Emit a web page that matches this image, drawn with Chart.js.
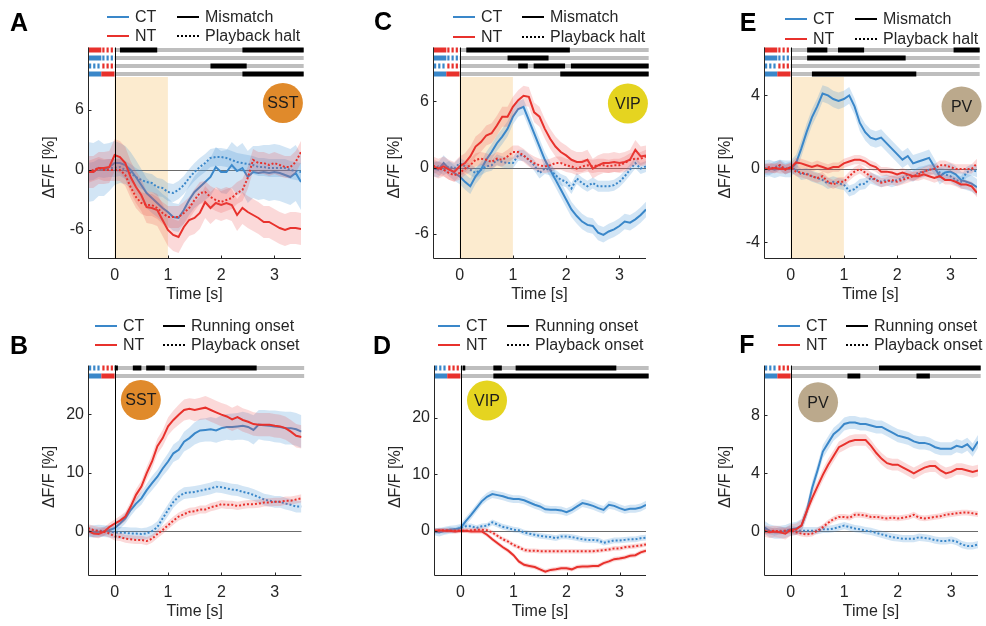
<!DOCTYPE html>
<html>
<head>
<meta charset="utf-8">
<script src="https://cdn.jsdelivr.net/npm/chart.js@4.4.1/dist/chart.umd.min.js"></script>
<style>
  body { margin: 0; background: #fff; }
  #fig { position: relative; width: 986px; height: 626px; overflow: hidden; background: #fff; }
  #fig canvas { position: absolute; }
</style>
</head>
<body>
<div id="fig"></div>
<script>
// time axis (s) and tick labels
const time = [-0.5,-0.4,-0.3,-0.2,-0.1,0,0.1,0.2,0.3,0.4,0.5,0.6,0.7,0.8,0.9,1,1.1,1.2,1.3,1.4,1.5,1.6,1.7,1.8,1.9,2,
  2.1,2.2,2.3,2.4,2.5,2.6,2.7,2.8,2.9,3,3.1,3.2,3.3,3.4,3.5];
const xTicks = [0, 1, 2, 3];

// A: SST, mismatch vs playback halt
const aCtSolid = [-0.2,-0.2,0.2,0,0.3,0.7, 0.7,0.5,0,-0.7,-1.5,-2.3,-2.8,-3.3,-3.8,-4.2, -4.7,-4.8,-4,-3,-2.2,-1.7,-1.2,-0.7,0.3,-0.2,
  -0.2,0.5,-0.1,0.2,-0.7,-0.2,-0.3,-0.2,-0.3,-0.2,-0.3,-0.5,-0.7,-0.3,-1.2];
const aNtSolid = [-0.2,-0.2,0.2,0.2,0.3,1.5, 1.3,0.7,-0.7,-1.7,-2.5,-3.7,-3.8,-4,-5,-6, -6.5,-6.7,-5.7,-5,-4.8,-4.3,-3.2,-3.8,-3.3,-3.5,
  -3.3,-3.5,-4.5,-3.8,-4.2,-4.5,-4.8,-5.2,-5.2,-5.5,-5.8,-6,-5.8,-5.8,-5.9];
const aCtDot = [-0.2,-0.1,0.2,0.1,0.2,0.2, 0.3,0,-0.3,-0.7,-1,-1.2,-1.3,-1.7,-1.8,-2.2, -2.3,-2,-1.5,-0.8,-0.2,0.3,0.7,1.2,1.3,1.3,
  1.2,1,0.8,0.7,0.6,0.5,0.3,0.3,0.2,0.2,0.2,0.2,0,-0.1,-0.2];
const aNtDot = [-0.2,0,0.2,0,0,0, 0,-0.5,-1.7,-2.7,-3.3,-3.5,-3.5,-3.8,-4.3,-4.7, -4.7,-4.7,-4.3,-3.8,-3,-2.3,-2.2,-2.7,-3,-3.2,
  -3,-2.8,-2.3,-2,-0.8,1,0.7,0.7,0.5,0.7,0.5,0.3,0.3,0.8,1.8];
const aErrCtSolid = [3,2.9,2.8,2.6,2.4,2.2, 2,1.9,1.8,1.7,1.6,1.5,1.5,1.4,1.4,1.4, 1.4,1.4,1.4,1.5,1.6,1.7,1.8,1.9,2,2.1,
  2.2,2.3,2.4,2.5,2.6,2.6,2.7,2.7,2.8,2.8,2.8,2.8,2.8,2.8,2.8];
const aErr = { ctDot: 0.9, ntSolid: 1.6, ntDot: 1.1 };
const aSig = [[[0.1,0.8],[2.4,3.55]], [], [[1.8,2.48]], [[2.4,3.55]]];

// C: VIP, mismatch vs playback halt
const cCtSolid = [-0.1,-0.2,0.4,-0.1,-0.5,-0.8, -1.3,-1.7,-0.8,-0.2,0.7,1.4,2.2,2.8,3.5,4.6, 5.3,5.5,4.3,3.1,1.9,0.7,-0.2,-1.1,-2,-2.9,
  -3.8,-4.4,-4.9,-5.2,-5.3,-5.9,-6.1,-5.8,-5.6,-5.3,-4.9,-5,-4.7,-4.3,-3.8];
const cNtSolid = [0.1,-0.1,0.1,-0.2,-0.4,0.1, 0.4,1,1.9,2.3,2.9,3.1,3.8,4.6,4.6,5.5, 6.1,6.5,6.4,5,4.6,3.5,2.6,1.9,1.4,1.1,
  0.7,0.5,0.5,0.7,-0.1,0.2,0.4,0.4,0.5,0.4,0.5,0.7,1.6,1,1.1];
const cCtDot = [-0.1,0.1,-0.2,0.1,-0.1,0.4, 0.1,-0.2,-0.5,-0.2,0.1,0.2,0.7,0.5,0.4,0.4, 1.1,1.1,0.7,0.2,-0.5,-0.1,-0.2,-0.7,-1.1,-1.3,
  -1.9,-1,-1.4,-1.7,-1.4,-1.7,-1.7,-1.7,-1.6,-1.3,-0.8,-0.2,0.4,-0.1,0.1];
const cNtDot = [0.2,-0.1,-0.2,-0.5,-0.7,-0.5, -0.1,0.2,0.7,0.8,0.7,0.5,0.8,0.7,1,1.4, 1.4,1.1,0.7,0.4,0.2,0.1,0.2,0.4,0.4,0.2,
  0.1,-0.1,0.1,0.2,0.1,0.2,0.2,0.1,0.2,0.2,0.4,0.7,0.8,0.8,1];
const cErr = { ctSolid: 0.7, ctDot: 0.5, ntSolid: 0.9, ntDot: 0.6 };
const cSig = [[[0.125,2.07]], [[0.9,1.67]], [[1.1,1.28],[1.39,1.98],[2.09,3.55]], [[1.89,3.55]]];

// E: PV, mismatch vs playback halt
const eCtSolid = [0,0.05,-0.05,0.05,0,0, 0.3,1.1,2,2.8,3.4,4.1,4,3.8,3.7,3.8, 4,3.4,2.5,2,1.7,1.6,1.7,1.4,1.1,0.8,
  0.5,0.7,0.3,0.4,0.5,0.6,0.1,-0.4,-0.2,-0.15,-0.3,-0.6,-0.7,-0.8,-1];
const eNtSolid = [0,0,0.05,0,0,0.05, 0.35,0.3,0.2,0.1,0.2,0.1,0,0.1,0.1,0.3, 0.4,0.5,0.5,0.4,0.2,0.1,-0.15,-0.15,-0.2,-0.3,
  -0.2,-0.3,-0.4,-0.4,-0.3,-0.4,-0.5,-0.4,-0.6,-0.6,-0.7,-0.85,-0.85,-0.95,-1.3];
const eCtDot = [0,-0.05,0.1,0.2,0,0.1, -0.05,-0.3,-0.25,-0.4,-0.5,-0.6,-0.8,-0.7,-0.8,-0.85, -1.2,-1.1,-0.85,-0.8,-0.5,-0.6,-0.7,-0.6,-0.7,-0.6,
  -0.5,-0.3,-0.4,-0.2,-0.15,-0.05,0,-0.2,-0.3,-0.4,-0.6,-0.7,-0.2,-0.05,-0.15];
const eNtDot = [0,0.1,0,0.2,-0.05,0.1, -0.15,-0.2,-0.3,-0.4,-0.5,-0.4,-0.7,-0.85,-0.7,-0.7, -0.4,-0.15,0,-0.2,-0.4,-0.6,-0.75,-0.7,-0.6,-0.7,
  -0.6,-0.5,-0.4,-0.3,-0.15,-0.05,0,0.2,0.2,0.1,0,0,0,0,0.3];
const eErr = { ctSolid: 0.45, ctDot: 0.3, ntSolid: 0.25, ntDot: 0.25 };
const eSig = [[[0.31,0.69],[0.89,1.38],[3.06,3.55]], [[0.31,2.16]], [], [[0.4,2.36]]];

// B: SST, running onset vs playback onset
const bCtSolid = [-0.1,-0.3,-0.3,0,0.2,0.5, 1.3,2.2,3.6,4.7,5.6,7,8.2,9.3,10.7,11.9, 13.3,13.9,15.3,15.9,16.7,17.2,17.3,17.4,17.2,17.6,
  17.8,17.8,17.9,18,17.8,17.3,18.2,18.1,18,17.9,17.8,17.6,17.6,17.4,17];
const bNtSolid = [0.1,-0.4,-0.5,-0.1,0.7,1.3, 1.8,2.5,4.2,6.2,7.6,9.9,11.9,14.5,15.9,17.9, 19,19.9,20.7,20.9,20.7,20.9,21.1,20.7,20.3,19.9,
  19.6,19.1,19.5,19,18.7,18.3,18.2,18.2,18.2,18,17.9,17.6,17,16.3,16.1];
const bCtDot = [-0.1,0,0.1,0,-0.1,-0.2, -0.3,-0.3,-0.4,-0.4,-0.5,-0.4,0,0.7,2.2,3.6, 5,5.9,6.5,6.6,6.7,6.9,7.1,7.3,7.6,7.5,
  7.3,7.1,7,6.7,6.5,6.2,5.8,5.4,5.2,5,5,4.7,4.5,4.2,4.2];
const bNtDot = [0.5,0.2,0,-0.1,-0.4,-0.9, -1,-1.3,-1.4,-1.5,-1.5,-1.7,-1.3,-0.5,0.2,1, 1.8,2.5,2.9,3.3,3.4,3.7,3.7,4.1,4.3,4.6,
  4.5,4.5,4.3,4.5,4.6,4.6,4.7,4.9,4.9,5,5,5.2,5.2,5.4,5.6];
const bErrCtSolid = [0.8,0.8,0.8,0.8,0.8,0.8, 0.9,0.9,1,1,1.1,1.1,1.2,1.2,1.3,1.4, 1.5,1.6,1.7,1.8,1.9,2,2,2.1,2.1,2.2,
  2.2,2.3,2.3,2.4,2.4,2.5,2.5,2.6,2.6,2.7,2.7,2.8,2.8,2.8,2.8];
const bErrNtSolid = [0.7,0.7,0.7,0.7,0.7,0.7, 0.8,0.8,0.9,1,1,1.1,1.2,1.3,1.4,1.5, 1.6,1.7,1.8,1.8,1.9,1.9,2,2,2,2,
  2,2,2,2,2,2,2,2,2,2,2,2,2,2,2];
const bErr = { ctDot: 1.0, ntDot: 0.7 };
const bSig = [[[0,0.06],[0.34,0.5],[0.59,0.94],[1.03,2.66]], []];

// D: VIP, running onset vs playback onset
const dCtSolid = [-0.1,-0.3,0,0.2,0.3,0.5, 1.7,2.8,4,5.2,6,6.5,6.3,6.1,5.8,5.6, 5.6,5.4,5,4.6,4.3,3.8,3.7,3.7,3.6,3.3,
  3.7,4.3,4.9,4.7,4.4,4,3.7,4.6,4.4,4,3.7,3.9,3.9,4.1,4.6];
const dNtSolid = [0,0.1,0,0,-0.1,0, 0,-0.1,-0.1,-0.1,-0.7,-1.5,-2.2,-2.9,-3.5,-4.3, -5.4,-6,-6.2,-6.4,-6.8,-7.2,-6.9,-6.8,-6.6,-6.6,
  -6.8,-6.4,-6.3,-6.3,-6.2,-6.2,-5.7,-5.4,-5,-4.9,-4.7,-4.4,-4.3,-3.8,-3.5];
const dCtDot = [-0.2,0.1,0,0.2,0.1,0.5, 0.8,0.8,0.5,0.8,0.9,1.5,1.1,0.7,0.5,0.2, 0.1,-0.3,-0.5,-0.7,-0.9,-1,-1.1,-1.3,-1,-1,
  -1.1,-1.3,-1.5,-1.6,-1.6,-1.7,-2.1,-1.9,-1.7,-1.7,-1.6,-1.5,-1.5,-1.3,-1.2];
const dNtDot = [0,0,0.1,0,0,0, 0,0.1,0.2,0.2,0.1,-0.3,-0.9,-1.5,-1.9,-2.5, -2.9,-3.4,-3.5,-3.5,-3.6,-3.6,-3.6,-3.6,-3.6,-3.6,
  -3.6,-3.6,-3.6,-3.6,-3.6,-3.5,-3.4,-3.3,-3.1,-3.1,-2.9,-2.8,-2.7,-2.6,-2.4];
const dErr = { ctSolid: 0.7, ctDot: 0.5, ntSolid: 0.4, ntDot: 0.4 };
const dSig = [[[0.04,0.09],[0.62,0.78],[1.04,2.94]], [[0.62,3.55]]];

// F: PV, running onset vs playback onset
const fCtSolid = [0.3,0.05,-0.05,-0.05,0,0.15, 0.2,0.4,1.4,3,4.2,5.5,6.1,6.7,7,7.4, 7.5,7.5,7.4,7.4,7.3,7.2,7.2,7,6.8,6.6,
  6.5,6.4,6.2,6.1,6.1,6,5.8,5.7,5.7,5.7,5.9,5.8,6,5.6,6.2];
const fNtSolid = [0.05,-0.05,0,-0.05,-0.15,0.1, 0.15,0.4,1.4,2.3,3.1,3.9,4.6,5.2,5.8,6, 6.2,6.3,6.3,6.3,5.9,5.4,5,4.7,4.6,4.6,
  4.4,4.2,4,4.2,4.4,4.5,4.5,4.2,4,4.1,4.3,4.3,4.2,4.1,4.2];
const fCtDot = [0.15,0.05,-0.05,0.05,0.05,0.15, 0.05,0.05,0.05,0.05,0.05,0.15,0.15,0.2,0.3,0.4, 0.3,0.2,0.15,0.05,0,-0.1,-0.2,-0.3,-0.4,-0.45,
  -0.5,-0.5,-0.5,-0.4,-0.45,-0.5,-0.6,-0.65,-0.65,-0.6,-0.7,-0.9,-1,-1,-0.9];
const fNtDot = [0,0,0.05,0,0.05,0.05, -0.05,-0.15,-0.2,-0.15,0.05,0.3,0.6,0.85,1,1, 0.95,1.15,1.15,1.1,1,1,0.95,0.9,0.95,0.9,
  0.95,1,1.15,0.95,0.9,0.95,1,1.05,1.15,1.2,1.25,1.3,1.3,1.25,1.2];
const fErr = { ctSolid: 0.45, ctDot: 0.25, ntSolid: 0.4, ntDot: 0.2 };
const fSig = [[[1.65,3.55]], [[1.06,1.3],[2.35,2.6]]];

// which two traces each significance row compares
const mismatchRows = [['nt','solid','nt','dot'], ['ct','solid','ct','dot'], ['ct','dot','nt','dot'], ['ct','solid','nt','solid']];
const onsetRows = [['ct','dot','nt','dot'], ['ct','solid','nt','solid']];

const BLUE = '#3A87C9', RED = '#E8312C';
const BLUE_BAND = 'rgba(74,152,214,0.25)', RED_BAND = 'rgba(236,80,80,0.22)';
const FONT = 'Arial, "Liberation Sans", Helvetica, sans-serif';
const INK = '#262626';
Chart.defaults.font.family = FONT;
Chart.defaults.color = INK;

const panels = [
  { letter: 'A', cell: 'SST', cellColor: '#E08A2B', dot: [3.16, 6.7],
    ct: aCtSolid, nt: aNtSolid, ctD: aCtDot, ntD: aNtDot,
    err: { ctSolid: aErrCtSolid, ctDot: aErr.ctDot, ntSolid: aErr.ntSolid, ntDot: aErr.ntDot },
    yMin: -8.8, yMax: 9.3, yTicks: [-6, 0, 6], sig: aSig, rows: mismatchRows, shade: [0, 1],
    names: ['Mismatch', 'Playback halt'],
    box: { left: 88, right: 301, top: 77, bottom: 258, cellTop: 0, cellH: 310 },
    letterAt: [19, 24], leg: [107, 177, 17, 36] },
  { letter: 'C', cell: 'VIP', cellColor: '#E5D420', dot: [3.16, 5.8],
    ct: cCtSolid, nt: cNtSolid, ctD: cCtDot, ntD: cNtDot, err: cErr,
    yMin: -8.2, yMax: 8.2, yTicks: [-6, 0, 6], sig: cSig, rows: mismatchRows, shade: [0, 1],
    names: ['Mismatch', 'Playback halt'],
    box: { left: 433, right: 646, top: 77, bottom: 258, cellTop: 0, cellH: 310 },
    letterAt: [383, 23], leg: [453, 522, 17, 37] },
  { letter: 'E', cell: 'PV', cellColor: '#BBA98C', dot: [3.21, 3.4],
    ct: eCtSolid, nt: eNtSolid, ctD: eCtDot, ntD: eNtDot, err: eErr,
    yMin: -4.85, yMax: 5.0, yTicks: [-4, 0, 4], sig: eSig, rows: mismatchRows, shade: [0, 1],
    names: ['Mismatch', 'Playback halt'],
    box: { left: 764, right: 977, top: 77, bottom: 258, cellTop: 0, cellH: 310 },
    letterAt: [748, 24], leg: [785, 855, 19, 39] },
  { letter: 'B', cell: 'SST', cellColor: '#E08A2B', dot: [0.49, 22.4],
    ct: bCtSolid, nt: bNtSolid, ctD: bCtDot, ntD: bNtDot,
    err: { ctSolid: bErrCtSolid, ctDot: bErr.ctDot, ntSolid: bErrNtSolid, ntDot: bErr.ntDot },
    yMin: -7.5, yMax: 26, yTicks: [0, 10, 20], sig: bSig, rows: onsetRows, shade: null,
    names: ['Running onset', 'Playback onset'],
    box: { left: 88, right: 301.5, top: 379, bottom: 575, cellTop: 310, cellH: 316 },
    letterAt: [19, 347], leg: [95, 163, 326, 345] },
  { letter: 'D', cell: 'VIP', cellColor: '#E5D420', dot: [0.5, 23],
    ct: dCtSolid, nt: dNtSolid, ctD: dCtDot, ntD: dNtDot, err: dErr,
    yMin: -7.8, yMax: 26.8, yTicks: [0, 10, 20], sig: dSig, rows: onsetRows, shade: null,
    names: ['Running onset', 'Playback onset'],
    box: { left: 434, right: 646, top: 379, bottom: 575, cellTop: 310, cellH: 316 },
    letterAt: [382, 347], leg: [438, 507, 326, 345] },
  { letter: 'F', cell: 'PV', cellColor: '#BBA98C', dot: [0.51, 8.9],
    ct: fCtSolid, nt: fNtSolid, ctD: fCtDot, ntD: fNtDot, err: fErr,
    yMin: -3.0, yMax: 10.5, yTicks: [0, 4, 8], sig: fSig, rows: onsetRows, shade: null,
    names: ['Running onset', 'Playback onset'],
    box: { left: 764, right: 978, top: 379, bottom: 575, cellTop: 310, cellH: 316 },
    letterAt: [747, 346], leg: [778, 846, 326, 345] }
];

function pts(vals) { return time.map((t, i) => ({ x: t, y: vals[i] })); }
function shift(vals, err, sign) {
  return vals.map((v, i) => v + sign * (Array.isArray(err) ? err[i] : err));
}

function buildDatasets(p) {
  // drawing order like the original: CT solid, CT dotted, NT solid, NT dotted (higher order = drawn first)
  const traces = [
    { vals: p.ct, err: p.err.ctSolid, color: BLUE, band: BLUE_BAND, dot: false },
    { vals: p.ctD, err: p.err.ctDot, color: BLUE, band: BLUE_BAND, dot: true },
    { vals: p.nt, err: p.err.ntSolid, color: RED, band: RED_BAND, dot: false },
    { vals: p.ntD, err: p.err.ntDot, color: RED, band: RED_BAND, dot: true }
  ];
  const out = [];
  let order = 20;
  traces.forEach(tr => {
    out.push({ data: pts(shift(tr.vals, tr.err, 1)), borderWidth: 0, pointRadius: 0, fill: false, order: order });
    out.push({ data: pts(shift(tr.vals, tr.err, -1)), borderWidth: 0, pointRadius: 0,
      fill: '-1', backgroundColor: tr.band, order: order });
    out.push({ data: pts(tr.vals), borderColor: tr.color, borderWidth: 2,
      borderDash: tr.dot ? [2, 2] : [], pointRadius: 0, fill: false, tension: 0, order: order - 1 });
    order -= 2;
  });
  return out;
}

const figurePlugin = {
  id: 'figure',
  beforeDatasetsDraw(chart, args, o) {
    const ctx = chart.ctx, x = chart.scales.x, y = chart.scales.y, a = chart.chartArea;
    ctx.save();
    if (o.shade) {
      const x0 = x.getPixelForValue(o.shade[0]), x1 = x.getPixelForValue(o.shade[1]);
      ctx.fillStyle = '#FCEBCF';
      ctx.fillRect(x0, a.top, x1 - x0, a.bottom - a.top);
    }
    const y0 = Math.round(y.getPixelForValue(0)) + 0.5;
    ctx.strokeStyle = '#6b6b6b';
    ctx.lineWidth = 1;
    ctx.beginPath(); ctx.moveTo(a.left, y0); ctx.lineTo(a.right, y0); ctx.stroke();
    ctx.restore();
  },
  afterDatasetsDraw(chart, args, o) {
    const ctx = chart.ctx, x = chart.scales.x, y = chart.scales.y, a = chart.chartArea;
    const n = o.sig.length;
    const rowY = i => a.top - 3 - 8 * (n - 1 - i);
    const axisTop = rowY(0) - 2.5;
    ctx.save();

    // significance rows
    const colorOf = k => k === 'ct' ? BLUE : RED;
    const xL = x.getPixelForValue(-0.5), xM = x.getPixelForValue(-0.25), xZ = x.getPixelForValue(0);
    function seg(x0, x1, cy, color, dotted) {
      ctx.fillStyle = color;
      if (!dotted) { ctx.fillRect(x0, cy - 2.5, x1 - x0, 5); return; }
      for (let xx = x0 + 1; xx < x1; xx += 4.2) ctx.fillRect(xx, cy - 2.5, Math.min(2.2, x1 - xx), 5);
    }
    o.sig.forEach((row, i) => {
      const cy = rowY(i);
      const keys = o.rows[i];
      seg(xL, xM, cy, colorOf(keys[0]), keys[1] === 'dot');
      seg(xM, xZ, cy, colorOf(keys[2]), keys[3] === 'dot');
      ctx.fillStyle = '#BEBEBE';
      ctx.fillRect(xZ, cy - 2, x.getPixelForValue(3.55) - xZ, 4);
      ctx.fillStyle = '#000';
      row.forEach(r => {
        const x0 = x.getPixelForValue(r[0]), x1 = x.getPixelForValue(r[1]);
        ctx.fillRect(x0, cy - 2.5, x1 - x0, 5);
      });
    });

    // axes
    ctx.strokeStyle = INK;
    ctx.lineWidth = 1;
    const lx = Math.round(a.left) + 0.5, by = Math.round(a.bottom) + 0.5;
    ctx.beginPath();
    ctx.moveTo(lx, axisTop); ctx.lineTo(lx, by); ctx.lineTo(a.right, by);
    ctx.stroke();
    ctx.beginPath();
    xTicks.forEach(t => {
      const px = Math.round(x.getPixelForValue(t)) + 0.5;
      ctx.moveTo(px, by); ctx.lineTo(px, by - 3);
    });
    o.yTicks.forEach(v => {
      const py = Math.round(y.getPixelForValue(v)) + 0.5;
      ctx.moveTo(lx, py); ctx.lineTo(lx + 3, py);
    });
    ctx.stroke();
    // event onset
    ctx.strokeStyle = '#000';
    const zx = Math.round(xZ) + 0.5;
    ctx.beginPath(); ctx.moveTo(zx, axisTop); ctx.lineTo(zx, by); ctx.stroke();

    // cell-type badge
    const cx = x.getPixelForValue(o.dot[0]), cyy = y.getPixelForValue(o.dot[1]);
    ctx.fillStyle = o.cellColor;
    ctx.beginPath(); ctx.arc(cx, cyy, 20, 0, Math.PI * 2); ctx.fill();
    ctx.fillStyle = '#1c1c1c';
    ctx.font = '16px ' + FONT;
    ctx.textAlign = 'center'; ctx.textBaseline = 'middle';
    ctx.fillText(o.cell, cx, cyy + 1);
    ctx.restore();
  },
  afterDraw(chart, args, o) {
    const ctx = chart.ctx;
    ctx.save();
    ctx.translate(-o.offX, -o.offY);
    // panel letter
    ctx.fillStyle = '#000';
    ctx.font = 'bold 25px ' + FONT;
    ctx.textAlign = 'center'; ctx.textBaseline = 'middle';
    ctx.fillText(o.letter, o.letterAt[0], o.letterAt[1]);
    // legend
    const [c1, c2, r1, r2] = o.leg;
    const items = [
      [c1, r1, BLUE, false, 'CT'], [c1, r2, RED, false, 'NT'],
      [c2, r1, '#000', false, o.names[0]], [c2, r2, '#000', true, o.names[1]]
    ];
    ctx.font = '16px ' + FONT;
    ctx.textAlign = 'left';
    items.forEach(it => {
      ctx.strokeStyle = it[2];
      ctx.lineWidth = 2;
      ctx.setLineDash(it[3] ? [2, 2] : []);
      ctx.beginPath(); ctx.moveTo(it[0], it[1]); ctx.lineTo(it[0] + 22, it[1]); ctx.stroke();
      ctx.fillStyle = INK;
      ctx.fillText(it[4], it[0] + 28, it[1] + 1);
    });
    ctx.restore();
  }
};

const fig = document.getElementById('fig');
panels.forEach(p => {
  const b = p.box;
  const yAxisW = 88, xAxisH = 46;
  const offX = b.left - yAxisW, offY = b.cellTop;
  const w = Math.ceil(yAxisW + (b.right - b.left) + 12);
  const h = b.cellH;
  const canvas = document.createElement('canvas');
  canvas.width = w; canvas.height = h;
  canvas.style.left = offX + 'px'; canvas.style.top = offY + 'px';
  canvas.style.width = w + 'px'; canvas.style.height = h + 'px';
  fig.appendChild(canvas);

  new Chart(canvas.getContext('2d'), {
    type: 'line',
    data: { datasets: buildDatasets(p) },
    plugins: [figurePlugin],
    options: {
      responsive: false,
      animation: false,
      devicePixelRatio: 1,
      layout: { padding: { left: 0, top: b.top - offY, right: w - yAxisW - (b.right - b.left),
        bottom: h - (b.bottom - offY) - xAxisH } },
      plugins: {
        legend: { display: false },
        tooltip: { enabled: false },
        figure: { shade: p.shade, sig: p.sig, rows: p.rows, yTicks: p.yTicks, dot: p.dot, cell: p.cell,
          cellColor: p.cellColor, letter: p.letter, letterAt: p.letterAt, leg: p.leg, names: p.names,
          offX: offX, offY: offY }
      },
      scales: {
        x: {
          type: 'linear', min: -0.5, max: 3.5,
          grid: { display: false, drawTicks: false }, border: { display: false },
          afterBuildTicks: s => { s.ticks = xTicks.map(v => ({ value: v })); },
          afterFit: s => { s.height = xAxisH; },
          ticks: { font: { size: 16 }, color: INK, padding: 8, maxRotation: 0 },
          title: { display: true, text: 'Time [s]', font: { size: 16 }, color: INK, padding: { top: 0, bottom: 0 } }
        },
        y: {
          type: 'linear', min: p.yMin, max: p.yMax,
          grid: { display: false, drawTicks: false }, border: { display: false },
          afterBuildTicks: s => { s.ticks = p.yTicks.map(v => ({ value: v })); },
          afterFit: s => { s.width = yAxisW; },
          ticks: { font: { size: 16 }, color: INK, padding: 4 },
          title: { display: true, text: 'ΔF/F [%]', font: { size: 16 }, color: INK, padding: { top: 40, bottom: 0 } }
        }
      }
    }
  });
});
</script>
</body>
</html>
